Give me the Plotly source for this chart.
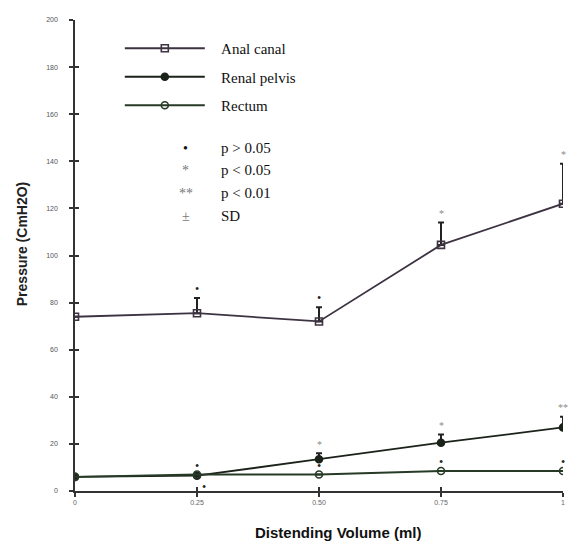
import plotly.graph_objects as go

volume = [0, 0.25, 0.5, 0.75, 1]
x_tick_labels = ["0", "0.25", "0.50", "0.75", "1"]
y_ticks = list(range(0, 201, 20))

anal_canal = [74, 75.5, 72, 104.5, 122]
anal_canal_sd = [0, 6.5, 6, 9.5, 17]
anal_canal_sig = ["", "•", "•", "*", "*"]

renal_pelvis = [6, 6.5, 13.5, 20.5, 27]
renal_pelvis_sd = [0, 0, 2.5, 3.5, 4.5]
renal_pelvis_sig = ["", "•", "*", "*", "**"]

rectum = [6, 7, 7, 8.5, 8.5]
rectum_sd = [0, 0, 0, 0, 0]
rectum_sig = ["", "•", "•", "•", "•"]

key_symbols = ["•", "*", "**", "±"]
key_texts = ["p > 0.05", "p < 0.05", "p < 0.01", "SD"]

W, H = 572, 544
L, R, T, B = 75, 7, 20, 53
pw, ph = W - L - R, H - T - B


def px(xp):
    return (xp - L) / pw


def py(yp):
    return (H - B - yp) / ph


fig = go.Figure()

NB = "\u00a0\u00a0\u00a0"
series = [
    ("Anal canal", anal_canal, anal_canal_sd, "square-open", 7, "#3d3342"),
    ("Renal pelvis", renal_pelvis, renal_pelvis_sd, "circle", 7, "#1a221a"),
    ("Rectum", rectum, rectum_sd, "circle-open", 7, "#263a26"),
]
for i, (name, vals, sd, sym, size, col) in enumerate(series):
    fig.add_trace(go.Scatter(
        x=volume, y=vals, name=NB + name, mode="lines+markers",
        legendgroup=name,
        line=dict(color=col, width=1.8),
        marker=dict(symbol=sym, size=size, color=col,
                    line=dict(color=col, width=1.6)),
        error_y=dict(type="data", array=sd, arrayminus=[0] * len(sd),
                     symmetric=False, color="#222222", thickness=2, width=3),
    ))

# empty trace so the overlay axes (inner half of the cross ticks) are drawn
fig.add_trace(go.Scatter(x=[None], y=[None], xaxis="x2", yaxis="y2",
                         showlegend=False, hoverinfo="skip"))

# significance marks
for vals, sd, sig, kind in [(anal_canal, anal_canal_sd, anal_canal_sig, "a"),
                            (renal_pelvis, renal_pelvis_sd, renal_pelvis_sig, "r"),
                            (rectum, rectum_sd, rectum_sig, "c")]:
    for j, s in enumerate(sig):
        if not s:
            continue
        ys = 9
        xs = 0
        if kind == "r" and j == 1:
            ys, xs = -11, 7
        colr = "#222222" if s == "•" else "#8a8a8a"
        fig.add_annotation(x=volume[j], y=vals[j] + sd[j], text=s,
                           showarrow=False, xshift=xs, yshift=ys,
                           font=dict(family="Liberation Serif", size=12 if s == "•" else 10,
                                     color=colr))

# key of symbols
key_y = [148, 170, 193, 216]
for s, t, yp in zip(key_symbols, key_texts, key_y):
    fig.add_annotation(xref="paper", yref="paper", x=px(186), y=py(yp), text=s,
                       showarrow=False, xanchor="center", yanchor="middle",
                       font=dict(family="Liberation Serif", size=14,
                                 color="#111111" if s == "•" else "#777777"))
    fig.add_annotation(xref="paper", yref="paper", x=px(220), y=py(yp), text=t,
                       showarrow=False, xanchor="left", yanchor="middle",
                       font=dict(family="Liberation Serif", size=15, color="#111111"))

# axis titles
fig.add_annotation(xref="paper", yref="paper", x=px(339), y=py(532),
                   xanchor="center", yanchor="middle",
                   text="<b>Distending Volume (ml)</b>", showarrow=False,
                   font=dict(family="Liberation Sans", size=15, color="#111111"))
fig.add_annotation(xref="paper", yref="paper", x=px(22), y=py(244),
                   xanchor="center", yanchor="middle",
                   text="<b>Pressure (CmH2O)</b>", showarrow=False, textangle=-90,
                   font=dict(family="Liberation Sans", size=14, color="#222222"))

fig.update_layout(
    width=W, height=H,
    margin=dict(l=L, r=R, t=T, b=B),
    paper_bgcolor="white", plot_bgcolor="white",
    showlegend=True,
    legend=dict(x=px(120), y=py(32), xanchor="left", yanchor="top",
                bgcolor="rgba(0,0,0,0)", itemwidth=80, tracegroupgap=6,
                font=dict(family="Liberation Serif", size=15, color="#111111")),
    xaxis=dict(range=[0, 1], tickvals=volume, ticktext=x_tick_labels,
               showgrid=False, zeroline=False, showline=True, linecolor="#333333",
               linewidth=1.5, ticks="outside", ticklen=4, tickcolor="#333333",
               tickwidth=1.5,
               tickfont=dict(family="Liberation Sans", size=7, color="#666666")),
    yaxis=dict(range=[0, 200], tickvals=y_ticks,
               showgrid=False, zeroline=False, showline=True, linecolor="#333333",
               linewidth=1.5, ticks="outside", ticklen=4, tickcolor="#333333",
               tickwidth=1.5, ticklabelstandoff=10,
               tickfont=dict(family="Liberation Sans", size=7, color="#555555")),
    xaxis2=dict(range=[0, 1], tickvals=volume, overlaying="x", anchor="y2",
                showticklabels=False, showgrid=False, zeroline=False,
                ticks="inside", ticklen=4, tickcolor="#333333", tickwidth=1.5),
    yaxis2=dict(range=[0, 200], tickvals=y_ticks, overlaying="y", anchor="x2",
                showticklabels=False, showgrid=False, zeroline=False,
                ticks="inside", ticklen=4, tickcolor="#333333", tickwidth=1.5),
)

fig.write_html("out.html")
